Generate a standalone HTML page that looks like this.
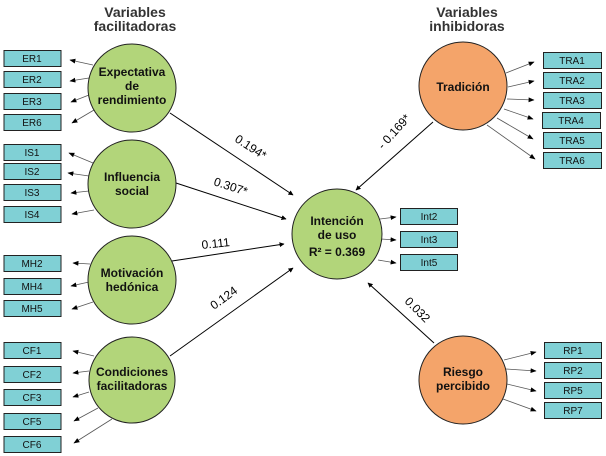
<!DOCTYPE html>
<html><head><meta charset="utf-8"><style>
html,body{margin:0;padding:0;background:#fff;}
svg{display:block;font-family:"Liberation Sans",Arial,sans-serif;}
</style></head><body>
<svg width="606" height="456" viewBox="0 0 606 456" xmlns="http://www.w3.org/2000/svg">
<defs>
<marker id="a" viewBox="0 0 10 10" refX="9" refY="5" markerWidth="5" markerHeight="5" orient="auto"><path d="M0,0L10,5L0,10z" fill="#000"/></marker>
<marker id="b" viewBox="0 0 10 10" refX="9" refY="5" markerWidth="6" markerHeight="6" orient="auto" markerUnits="userSpaceOnUse"><path d="M0,1L10,5L0,9z" fill="#000"/></marker>
</defs>
<g font-weight="bold" font-size="14" fill="#333" text-anchor="middle">
<text x="135" y="17">Variables</text><text x="135" y="31">facilitadoras</text>
<text x="467" y="17">Variables</text><text x="467" y="31">inhibidoras</text>
</g>
<g stroke="#555" stroke-width="0.8" fill="none" marker-end="url(#b)">
<line x1="93" y1="65" x2="70" y2="60"/><line x1="89" y1="78" x2="70" y2="81"/>
<line x1="89" y1="95" x2="71" y2="102"/><line x1="94" y1="110" x2="72" y2="123"/>
<line x1="93" y1="163" x2="69" y2="153"/><line x1="89" y1="176" x2="68" y2="173"/>
<line x1="89" y1="191" x2="71" y2="193"/><line x1="94" y1="210" x2="72" y2="214"/>
<line x1="90" y1="264" x2="73" y2="263"/><line x1="89" y1="282" x2="71" y2="286"/>
<line x1="93" y1="302" x2="72" y2="309"/>
<line x1="94" y1="356" x2="73" y2="351"/><line x1="89" y1="371" x2="73" y2="373"/>
<line x1="89" y1="392" x2="73" y2="397"/><line x1="98" y1="408" x2="74" y2="421"/>
<line x1="112" y1="419" x2="74" y2="443"/>
<line x1="506" y1="73" x2="534" y2="62"/><line x1="508" y1="87" x2="534" y2="81"/>
<line x1="507" y1="99" x2="534" y2="100"/><line x1="504" y1="109" x2="533" y2="119"/>
<line x1="497" y1="118" x2="533" y2="139"/><line x1="487" y1="125" x2="535" y2="159"/>
<line x1="380" y1="219" x2="396" y2="217"/><line x1="381" y1="239" x2="396" y2="240"/>
<line x1="378" y1="260" x2="396" y2="263"/>
<line x1="504" y1="360" x2="536" y2="352"/><line x1="506" y1="369" x2="536" y2="371"/>
<line x1="507" y1="384" x2="536" y2="391"/><line x1="503" y1="399" x2="536" y2="411"/>
</g>
<g stroke="#000" stroke-width="1" fill="none" marker-end="url(#a)">
<line x1="170" y1="113" x2="293" y2="195"/><line x1="176" y1="183" x2="286" y2="219"/>
<line x1="172" y1="261" x2="284" y2="244"/><line x1="170" y1="356" x2="293" y2="268"/>
<line x1="433" y1="122" x2="356" y2="190"/><line x1="434" y1="343" x2="368" y2="283"/>
</g>
<g font-size="12" fill="#000">
<text transform="translate(234,141) rotate(33)">0.194*</text>
<text transform="translate(213,185) rotate(18)">0.307*</text>
<text transform="translate(202,249) rotate(-6)">0.111</text>
<text transform="translate(214,310) rotate(-36)">0.124</text>
<text transform="translate(383,150) rotate(-48)">- 0.169*</text>
<text transform="translate(404,302) rotate(45)">0.032</text>
</g>
<g stroke="#222" stroke-width="1">
<circle cx="132" cy="88" r="44" fill="#b2d57a"/><circle cx="132" cy="184" r="44" fill="#b2d57a"/>
<circle cx="132" cy="280" r="44" fill="#b2d57a"/><circle cx="132" cy="380" r="43" fill="#b2d57a"/>
<circle cx="337" cy="234" r="45" fill="#b2d57a"/>
<circle cx="463" cy="86" r="44" fill="#f4a46a"/><circle cx="463" cy="380" r="44" fill="#f4a46a"/>
</g>
<g font-size="12" font-weight="bold" fill="#111" text-anchor="middle">
<text x="132" y="76">Expectativa</text><text x="132" y="90">de</text><text x="132" y="104">rendimiento</text>
<text x="132" y="181">Influencia</text><text x="132" y="195">social</text>
<text x="132" y="277">Motivación</text><text x="132" y="291">hedónica</text>
<text x="132" y="376">Condiciones</text><text x="132" y="390">facilitadoras</text>
<text x="337" y="225">Intención</text><text x="337" y="239">de uso</text><text x="337" y="256">R² = 0.369</text>
<text x="463" y="91">Tradición</text>
<text x="463" y="376">Riesgo</text><text x="463" y="390">percibido</text>
</g>
<g fill="#80d0d5" stroke="#222" stroke-width="1">
<rect x="4" y="50.5" width="57" height="16"/><rect x="4" y="71.5" width="57" height="16"/>
<rect x="4" y="93.5" width="57" height="16"/><rect x="4" y="114.5" width="57" height="16"/>
<rect x="4" y="144.5" width="57" height="16"/><rect x="4" y="163.5" width="57" height="16"/>
<rect x="4" y="184.5" width="57" height="16"/><rect x="4" y="206.5" width="57" height="16"/>
<rect x="4" y="255.5" width="57" height="16"/><rect x="4" y="278.5" width="57" height="16"/>
<rect x="4" y="300.5" width="57" height="16"/>
<rect x="4" y="342.5" width="57" height="16"/><rect x="4" y="366.5" width="57" height="16"/>
<rect x="4" y="389.5" width="57" height="16"/><rect x="4" y="413.5" width="57" height="16"/>
<rect x="4" y="436.5" width="57" height="16"/>
<rect x="543.5" y="52.5" width="58" height="16"/><rect x="543.5" y="72.5" width="58" height="16"/>
<rect x="543.5" y="92.5" width="58" height="16"/><rect x="542.5" y="112.5" width="58" height="16"/>
<rect x="543.5" y="132.5" width="58" height="16"/><rect x="543.5" y="152.5" width="58" height="16"/>
<rect x="400.5" y="208.5" width="57" height="16"/><rect x="400.5" y="231.5" width="57" height="16"/>
<rect x="400.5" y="254.5" width="57" height="16"/>
<rect x="544.5" y="342.5" width="57" height="16"/><rect x="544.5" y="362.5" width="57" height="16"/>
<rect x="544.5" y="382.5" width="57" height="16"/><rect x="544.5" y="402.5" width="57" height="16"/>
</g>
<g font-size="10" fill="#111" text-anchor="middle">
<text x="32" y="62">ER1</text><text x="32" y="83">ER2</text><text x="32" y="105">ER3</text><text x="32" y="126">ER6</text>
<text x="32" y="156">IS1</text><text x="32" y="175">IS2</text><text x="32" y="196">IS3</text><text x="32" y="218">IS4</text>
<text x="32" y="267">MH2</text><text x="32" y="290">MH4</text><text x="32" y="312">MH5</text>
<text x="32" y="354">CF1</text><text x="32" y="378">CF2</text><text x="32" y="401">CF3</text><text x="32" y="425">CF5</text><text x="32" y="448">CF6</text>
<text x="572" y="64">TRA1</text><text x="572" y="84">TRA2</text><text x="572" y="104">TRA3</text>
<text x="571" y="124">TRA4</text><text x="572" y="144">TRA5</text><text x="572" y="164">TRA6</text>
<text x="429" y="220">Int2</text><text x="429" y="243">Int3</text><text x="429" y="266">Int5</text>
<text x="573" y="354">RP1</text><text x="573" y="374">RP2</text><text x="573" y="394">RP5</text><text x="573" y="414">RP7</text>
</g>
</svg>
</body></html>
